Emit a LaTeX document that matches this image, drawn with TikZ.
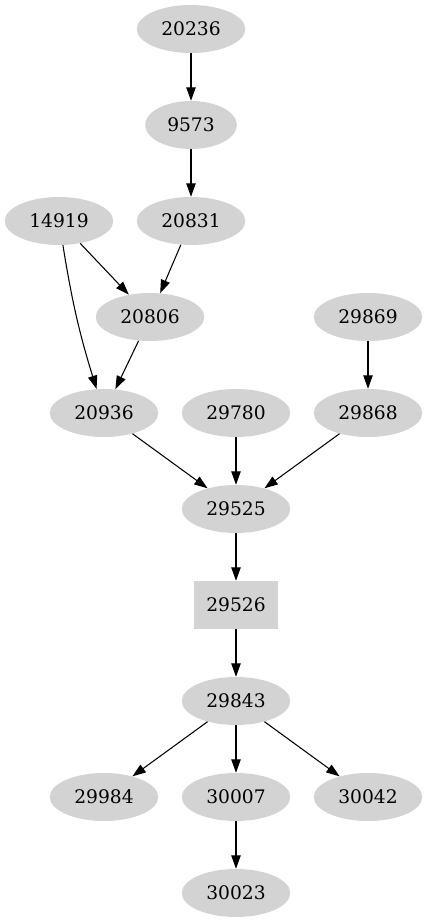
\documentclass[tikz,border=0pt]{standalone}
\usepackage{fontspec}
\setmainfont{DejaVu Serif}
\usetikzlibrary{shapes}
\usetikzlibrary{arrows.meta}
\definecolor{nodegray}{RGB}{211,211,211}

\begin{document}
\begin{tikzpicture}[x=0.75pt, y=-0.75pt]
    \tikzstyle{job}=[ellipse, fill=nodegray, inner xsep=6.5pt, inner ysep=0pt,
      minimum height=36pt, font=\fontsize{14pt}{16pt}\selectfont]
    \tikzstyle{task}=[rectangle, fill=nodegray, minimum width=63pt,
      minimum height=36pt, font=\fontsize{14pt}{16pt}\selectfont]
    \tikzstyle{dep}=[-{Triangle[length=10pt,width=7pt]}, line width=0.8pt]
    \useasboundingbox (0,0) rectangle (427,923);
    \node[job] (n20236) at (191,29) {20236};
    \node[job] (n9573) at (191,125) {9573};
    \node[job] (n14919) at (59,221) {14919};
    \node[job] (n20831) at (191,221) {20831};
    \node[job] (n20806) at (150,317) {20806};
    \node[job] (n29869) at (368,317) {29869};
    \node[job] (n20936) at (104,413) {20936};
    \node[job] (n29780) at (236,413) {29780};
    \node[job] (n29868) at (368,413) {29868};
    \node[job] (n29525) at (236,509) {29525};
    \node[task] (n29526) at (236,605) {29526};
    \node[job] (n29843) at (236,701) {29843};
    \node[job] (n29984) at (104,797) {29984};
    \node[job] (n30007) at (236,797) {30007};
    \node[job] (n30042) at (368,797) {30042};
    \node[job] (n30023) at (236,893) {30023};
    % edges
    \draw[dep] (n20236) -- (n9573);
    \draw[dep] (n9573) -- (n20831);
    \draw[dep] (n14919) -- (n20806);
    \draw[dep] (n20831) -- (n20806);
    \draw[dep] (n14919) to[bend right=4] (n20936);
    \draw[dep] (n20806) -- (n20936);
    \draw[dep] (n29869) -- (n29868);
    \draw[dep] (n20936) -- (n29525);
    \draw[dep] (n29780) -- (n29525);
    \draw[dep] (n29868) -- (n29525);
    \draw[dep] (n29525) -- (n29526);
    \draw[dep] (n29526) -- (n29843);
    \draw[dep] (n29843) -- (n29984);
    \draw[dep] (n29843) -- (n30007);
    \draw[dep] (n29843) -- (n30042);
    \draw[dep] (n30007) -- (n30023);
\end{tikzpicture}
\end{document}
